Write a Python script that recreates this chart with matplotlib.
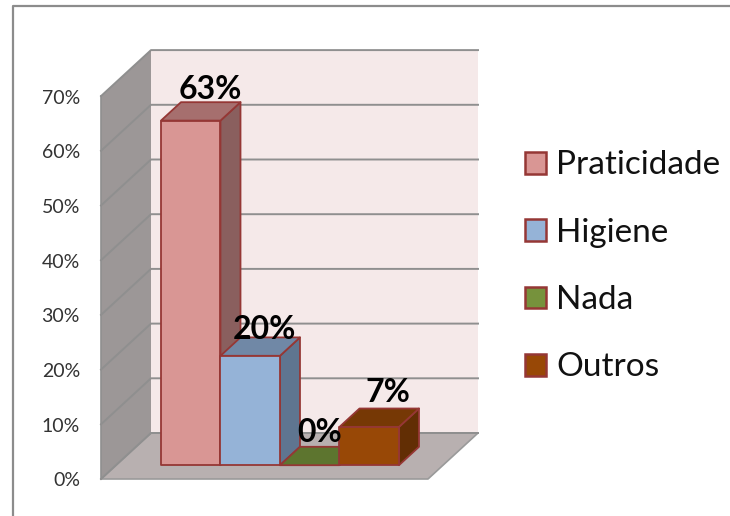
import matplotlib
matplotlib.use("Agg")
import matplotlib.pyplot as plt
from matplotlib.lines import Line2D
from matplotlib.patches import Patch, Polygon

categories = ["Praticidade", "Higiene", "Nada", "Outros"]
values = [63, 20, 0, 7]
bar_labels = ["63%", "20%", "0%", "7%"]
y_ticks = [0, 10, 20, 30, 40, 50, 60, 70]

front_colors = ["#D99694", "#95B3D7", "#76923C", "#984806"]
top_colors = ["#A66F6E", "#7088A6", "#5D752F", "#763805"]
side_colors = ["#8A5F5E", "#5F7590", "#4A5D25", "#622E04"]
edge_color = "#953735"

W, H = 730, 516
px_per_cat = 59.5
px_per_pct = 5.47
depth_px_x = 50  # the floor goes 50 px right and 46 px up
depth_px_y = 46
x_left = -0.756
x_right = 4.74

plt.rcParams["font.family"] = ["Lato", "DejaVu Sans"]
fig = plt.figure(figsize=(W / 100, H / 100), dpi=100)
fig.patch.set_facecolor("white")

# frame: only top and left show in the picture
fig.add_artist(Line2D([13 / W, 13 / W, 1], [0, 1 - 6 / H, 1 - 6 / H], transform=fig.transFigure,
                      color="#8C8C8C", lw=1.6))

# axes = the front plane of the 3d box
ax = fig.add_axes([101 / W, 1 - 479 / H, (x_right - x_left) * px_per_cat / W, 70 * px_per_pct / H])
ax.set_xlim(x_left, x_right)
ax.set_ylim(0, 70)
ax.axis("off")


def project(x, y, d):
    # d = 0 front of the box, d = 1 back wall
    return x + d * depth_px_x / px_per_cat, y + d * depth_px_y / px_per_pct


def poly(points, color, edge="none", lw=0, z=1):
    ax.add_patch(Polygon([project(*p) for p in points], closed=True, facecolor=color,
                         edgecolor=edge, linewidth=lw, clip_on=False, zorder=z, joinstyle="round"))


# walls and floor
poly([(x_left, 0, 1), (x_right, 0, 1), (x_right, 70, 1), (x_left, 70, 1)], "#F5E9E9")
poly([(x_left, 0, 0), (x_left, 0, 1), (x_left, 70, 1), (x_left, 70, 0)], "#9C9797")
poly([(x_left, 0, 0), (x_right, 0, 0), (x_right, 0, 1), (x_left, 0, 1)], "#B8B0B0", "#9A9A9A", 1.2)

for t in y_ticks:
    xs, ys = zip(project(x_left, t, 0), project(x_left, t, 1), project(x_right, t, 1))
    ax.plot(xs, ys, color="#8F8F8F", lw=1.4, clip_on=False, zorder=2)
    ax.annotate(f"{t}%", (x_left, t), xytext=(-21, -2), textcoords="offset pixels",
                ha="right", va="center", fontsize=14, color="#333333")
ax.plot(*zip(project(x_left, 0, 0), project(x_left, 70, 0)), color="#8F8F8F", lw=1.2, clip_on=False, zorder=2)

# bars, left to right so the next front hides the previous side
d0, d1 = 0.3, 0.7
for i, v in enumerate(values):
    z = 3 + i
    poly([(i + 1, 0, d0), (i + 1, 0, d1), (i + 1, v, d1), (i + 1, v, d0)], side_colors[i], edge_color, 1.3, z)
    poly([(i, v, d0), (i + 1, v, d0), (i + 1, v, d1), (i, v, d1)], top_colors[i], edge_color, 1.3, z)
    if v > 0:
        poly([(i, 0, d0), (i + 1, 0, d0), (i + 1, v, d0), (i, v, d0)], front_colors[i], edge_color, 1.3, z)

# data labels
label_nudge_x = [0, -6, -10, -1]
label_nudge_y = [13, 8, 14, 16]
for i, v in enumerate(values):
    lx, ly = project(i + 0.5, v, d1)
    ax.annotate(bar_labels[i], (lx, ly), xytext=(label_nudge_x[i], label_nudge_y[i]), textcoords="offset pixels",
                ha="center", va="center", fontsize=23, color="black", zorder=10,
                fontweight="bold")

handles = [Patch(facecolor=c, edgecolor=edge_color, linewidth=1.8) for c in front_colors]
fig.legend(handles, categories, loc="center left", bbox_to_anchor=(525 / W, 1 - 266.5 / H),
           frameon=False, fontsize=24, handlelength=0.63, handleheight=0.63, handletextpad=0.3,
           labelspacing=1.12, borderpad=0, borderaxespad=0, labelcolor="#111111")

fig.savefig("out.png", dpi=100)
